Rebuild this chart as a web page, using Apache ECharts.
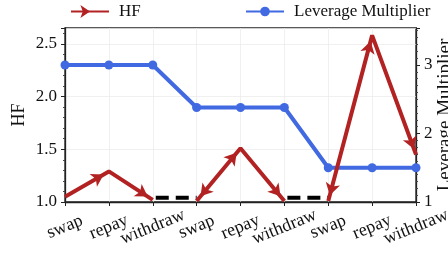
<!DOCTYPE html>
<html><head><meta charset="utf-8">
<script src="https://cdn.jsdelivr.net/npm/echarts@6/dist/echarts.min.js"></script>
<style>html,body{margin:0;padding:0;background:#fff}#c{width:448px;height:255px}</style>
</head><body><div id="c"></div>
<script>
const categories = ['swap','repay','withdraw','swap','repay','withdraw','swap','repay','withdraw'];
const hf = [1.05, 1.29, 1.02, 1.01, 1.51, 1.01, 1.01, 2.58, 1.45];
const leverage = [3, 3, 3, 2.38, 2.38, 2.38, 1.5, 1.5, 1.5];
const transition = [null, null, 1.04, 1.04, null, 1.04, 1.04, null, null];
const hfGroups = [[0, 2], [3, 5], [6, 8]];
const hfTicks = {min: 1.0, max: 2.65, interval: 0.5};
const levTicks = {min: 1, max: 3.54, interval: 1};

const FONT = 'Liberation Serif';
const RED = '#b22222', BLUE = '#4169e1';
const AH = 12, AW = 11;
const chart = echarts.init(document.getElementById('c'), null, {renderer: 'canvas'});

function groupData(g, withArrows) {
  const data = categories.map(() => null);
  for (let i = g[0]; i <= g[1]; i++) {
    const item = {value: hf[i]};
    if (i === 0) item.symbol = 'none';
    else if (withArrows) {
      const p = chart.convertToPixel({xAxisIndex: 0, yAxisIndex: 0}, [i, hf[i]]);
      const j = (i === g[0]) ? i + 1 : i - 1;
      const q = chart.convertToPixel({xAxisIndex: 0, yAxisIndex: 0}, [j, hf[j]]);
      const dx = p[0] - q[0], dy = p[1] - q[1];
      const L = Math.hypot(dx, dy);
      const ux = dx / L, uy = dy / L;
      const theta = Math.atan2(-uy, ux) * 180 / Math.PI;
      item.symbolRotate = theta - 90;
      item.symbolOffset = [-ux * AH / 2, -uy * AH / 2];
    }
    data[i] = item;
  }
  return data;
}

function buildOption(withArrows) {
  const axisLine = {show: true, lineStyle: {color: '#222', width: 1.3}};
  const series = [
    {
      name: 'Leverage Multiplier', type: 'line', yAxisIndex: 1, data: leverage,
      symbol: 'circle', symbolSize: 9, z: 2,
      lineStyle: {color: BLUE, width: 4}, itemStyle: {color: BLUE}
    },
    {
      name: 'transition', type: 'line', yAxisIndex: 0, data: transition,
      symbol: 'none', z: 3,
      lineStyle: {color: '#000', width: 4, type: [13, 7], dashOffset: 17}
    }
  ];
  hfGroups.forEach((g) => {
    series.push({
      name: 'HF', type: 'line', yAxisIndex: 0, data: groupData(g, withArrows),
      symbol: 'arrow', symbolSize: [AW, AH], symbolRotate: -90, z: 4,
      lineStyle: {color: RED, width: 4}, itemStyle: {color: RED}
    });
  });
  return {
    animation: false,
    textStyle: {fontFamily: FONT},
    legend: [
      {data: ['HF'], left: 70, top: 3, padding: 0, itemWidth: 38, itemHeight: 12,
       textStyle: {fontFamily: FONT, fontSize: 17, color: '#111', padding: [0, 0, 0, 5]}},
      {data: ['Leverage Multiplier'], left: 245, top: 3, padding: 0, itemWidth: 38, itemHeight: 12,
       textStyle: {fontFamily: FONT, fontSize: 17, color: '#111', padding: [0, 0, 0, 5]}}
    ],
    grid: {left: 65, right: 32, top: 28, bottom: 53, show: true, borderColor: '#222', borderWidth: 1.3,
           containLabel: false, outerBoundsMode: 'none'},
    xAxis: {
      type: 'category', data: categories, boundaryGap: false,
      axisLine: axisLine,
      axisTick: {show: true, length: 4, interval: 0, lineStyle: {color: '#222'}},
      axisLabel: {fontFamily: FONT, fontSize: 18, color: '#111', rotate: 22, align: 'center', verticalAlign: 'middle', margin: 25, interval: 0, hideOverlap: false},
      splitLine: {show: true, interval: 0, lineStyle: {color: '#ececec', width: 0.8}}
    },
    yAxis: [
      {
        type: 'value', position: 'left', min: hfTicks.min, max: hfTicks.max, interval: hfTicks.interval,
        name: 'HF', nameLocation: 'middle', nameGap: 37, nameRotate: 90, nameMoveOverlap: false,
        nameTextStyle: {fontFamily: FONT, fontSize: 18, color: '#111'},
        axisLine: axisLine,
        axisTick: {show: true, length: 4, lineStyle: {color: '#222'}},
        minorTick: {show: true, splitNumber: 5, length: 2, lineStyle: {color: '#444'}},
        axisLabel: {fontFamily: FONT, fontSize: 17, color: '#111', margin: 8, formatter: v => v.toFixed(1), showMaxLabel: false},
        splitLine: {show: true, lineStyle: {color: '#ececec', width: 0.8}}
      },
      {
        type: 'value', position: 'right', min: levTicks.min, max: levTicks.max, interval: levTicks.interval,
        name: 'Leverage Multiplier', nameLocation: 'middle', nameGap: 20, nameRotate: 90, nameMoveOverlap: false,
        nameTextStyle: {fontFamily: FONT, fontSize: 19, color: '#111'},
        axisLine: axisLine,
        axisTick: {show: true, length: 4, lineStyle: {color: '#222'}},
        minorTick: {show: true, splitNumber: 10, length: 2, lineStyle: {color: '#444'}},
        axisLabel: {fontFamily: FONT, fontSize: 17, color: '#111', margin: 8, showMaxLabel: false},
        splitLine: {show: false}
      }
    ],
    series: series
  };
}

chart.setOption(buildOption(false));
chart.setOption(buildOption(true));
</script>
</body></html>
